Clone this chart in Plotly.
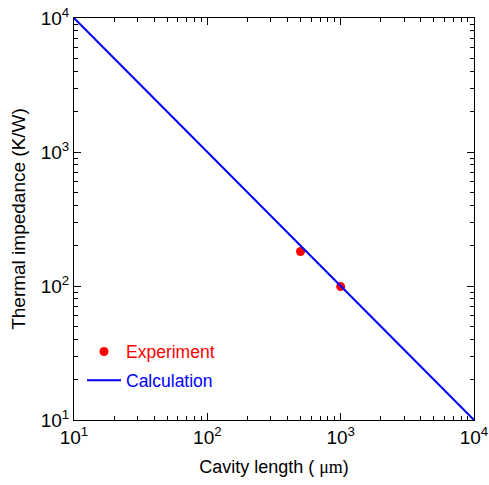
import plotly.graph_objects as go

exp_x = [500, 1000]
exp_y = [181, 99]
calc_x = [10, 100, 1000, 10000]
calc_y = [10000, 1000, 100, 10]

major_vals = [10, 100, 1000, 10000]
major_text = ["10<sup>1</sup>", "10<sup>2</sup>", "10<sup>3</sup>", "10<sup>4</sup>"]
minor_vals = [m * d for d in [10, 100, 1000] for m in range(2, 10)]

fig = go.Figure()
fig.add_trace(go.Scatter(x=exp_x, y=exp_y, mode="markers",
                         marker=dict(color="red", size=9), legendgroup="a",
                         name="<span style='color:red'>Experiment</span>"))
fig.add_trace(go.Scatter(x=calc_x, y=calc_y, mode="lines",
                         line=dict(color="blue", width=2), legendgroup="b",
                         name="<span style='color:blue'>Calculation</span>"))

axis_common = dict(type="log", tickvals=major_vals, ticktext=major_text, showgrid=False,
                   zeroline=False, showline=True, linecolor="black", linewidth=1,
                   mirror="allticks", ticks="inside", ticklen=7, tickcolor="black",
                   ticklabeloverflow="allow", automargin=False,
                   tickfont=dict(size=19, color="black", family="Liberation Sans"),
                   minor=dict(tickvals=minor_vals, ticks="inside", ticklen=4,
                              tickcolor="black", showgrid=False))

fig.update_xaxes(range=[1, 4],
                 title=dict(text="Cavity length ( <span style='font-family:Liberation Serif'>μm</span>)",
                            font=dict(size=18, color="black", family="Liberation Sans"), standoff=13),
                 **axis_common)
fig.update_yaxes(range=[1, 4],
                 title=dict(text="Thermal impedance (K/W)",
                            font=dict(size=19, color="black", family="Liberation Sans"), standoff=10),
                 **axis_common)

fig.update_layout(width=489, height=485, plot_bgcolor="white", paper_bgcolor="white",
                  margin=dict(l=74, r=15, t=18, b=65),
                  font=dict(family="Liberation Sans", color="black"),
                  legend=dict(x=0.02, y=0.215, xanchor="left", yanchor="top",
                              traceorder="grouped",
                              bgcolor="rgba(0,0,0,0)", font=dict(size=17.5),
                              itemwidth=34, tracegroupgap=3))

fig.write_html("out.html")
